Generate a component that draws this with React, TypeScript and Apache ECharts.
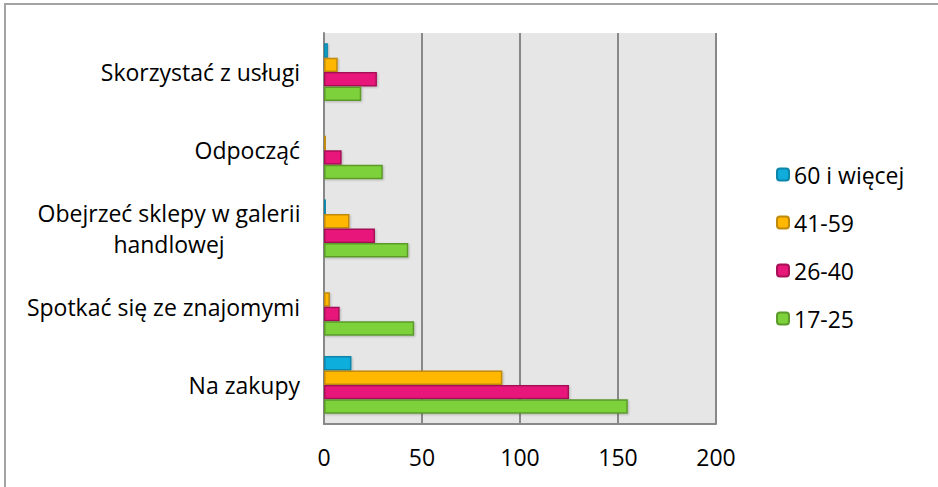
import React, { useEffect, useRef } from "react";
import * as echarts from "echarts";

// Categories listed bottom-to-top along the vertical category axis
const categories = [
  "Na zakupy",
  "Spotkać się ze znajomymi",
  "Obejrzeć sklepy w galerii\nhandlowej",
  "Odpocząć",
  "Skorzystać z usługi",
];

const age17to25 = [155, 46, 43, 30, 19];
const age26to40 = [125, 8, 26, 9, 27];
const age41to59 = [91, 3, 13, 1, 7];
const age60plus = [14, 0, 1, 0, 2];

const xTicks = [0, 50, 100, 150, 200];

const FONT = "'Open Sans', 'Noto Sans', sans-serif";
const FS = 23;

export default function App() {
  const ref = useRef<HTMLDivElement>(null);

  useEffect(() => {
    if (!ref.current) return;
    const chart = echarts.init(ref.current, undefined, { renderer: "svg" });

    const mk = (name: string, data: number[], color: string, border: string) => ({
      name,
      type: "bar",
      data,
      barGap: "0%",
      barCategoryGap: "26%",
      itemStyle: {
        color,
        borderColor: border,
        borderWidth: 1.5,
        shadowColor: "rgba(0,0,0,0.22)",
        shadowBlur: 2,
        shadowOffsetX: 1,
        shadowOffsetY: 1,
      },
    });

    chart.setOption({
      animation: false,
      backgroundColor: "#ffffff",
      textStyle: { fontFamily: FONT },
      graphic: [
        {
          type: "rect",
          shape: { x: 5, y: 4, width: 960, height: 520 },
          style: { fill: "none", stroke: "#a3a3a3", lineWidth: 2 },
          silent: true,
        },
      ],
      grid: { left: 324, right: 222, top: 33, bottom: 63, backgroundColor: "#e6e6e6", show: true, borderWidth: 0 },
      legend: {
        orient: "vertical",
        left: 771,
        top: 158,
        itemWidth: 12,
        itemHeight: 12,
        itemGap: 25,
        data: ["60 i więcej", "41-59", "26-40", "17-25"],
        textStyle: { fontSize: FS, color: "#000", fontFamily: FONT },
      },
      xAxis: {
        type: "value",
        min: xTicks[0],
        max: xTicks[xTicks.length - 1],
        interval: 50,
        axisLine: { show: true, lineStyle: { color: "#888888", width: 2 } },
        axisTick: { show: false },
        splitLine: { show: true, showMinLine: true, showMaxLine: true, lineStyle: { color: "#888888", width: 2 } },
        axisLabel: { fontSize: FS, color: "#000", margin: 21, fontFamily: FONT },
      },
      yAxis: {
        type: "category",
        data: categories,
        axisLine: { show: true, lineStyle: { color: "#888888", width: 2 } },
        axisTick: { show: false },
        axisLabel: {
          fontSize: FS,
          color: "#000",
          margin: 24,
          fontFamily: FONT,
          formatter: (v: string) =>
            v.includes("\n")
              ? v
                  .split("\n")
                  .map((s) => `{c|${s}}`)
                  .join("\n")
              : v,
          rich: {
            c: { width: 262, align: "center", fontSize: FS, lineHeight: 31, color: "#000", fontFamily: FONT },
          },
        },
      },
      // first series sits at the top of each category group
      series: [
        mk("60 i więcej", age60plus, "#10addc", "#0c86aa"),
        mk("41-59", age41to59, "#ffb700", "#c08a0c"),
        mk("26-40", age26to40, "#e8177a", "#a81058"),
        mk("17-25", age17to25, "#7dd13b", "#5c9a2b"),
      ],
    });

    return () => chart.dispose();
  }, []);

  return (
    <div
      ref={ref}
      style={{ position: "fixed", left: 0, top: 0, width: 938, height: 487 }}
    />
  );
}
